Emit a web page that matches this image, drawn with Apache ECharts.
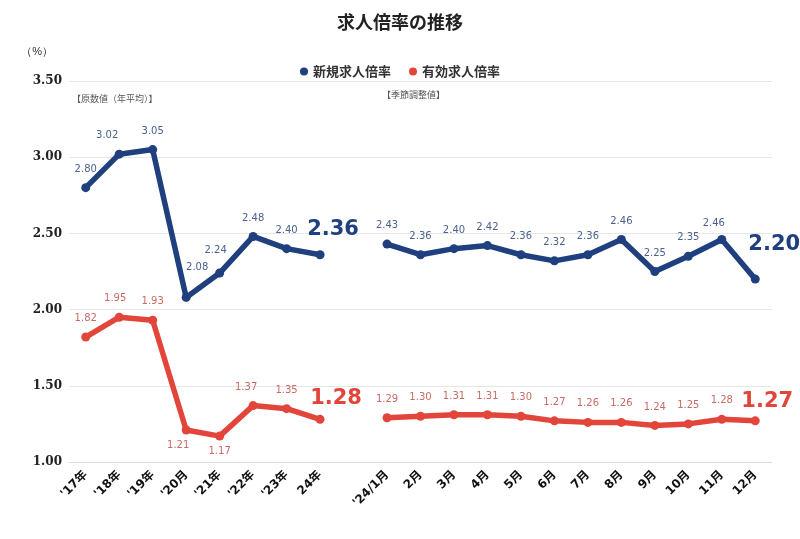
<!DOCTYPE html>
<html>
<head>
<meta charset="utf-8">
<script src="https://cdn.jsdelivr.net/npm/echarts@6/dist/echarts.min.js"></script>
<style>
  html, body { margin: 0; padding: 0; background: #fff; }
  #chart { width: 800px; height: 539px; }
</style>
</head>
<body>
<div id="chart"></div>
<script>
const categories = ["'17年", "'18年", "'19年", "'20月", "'21年", "'22年", "'23年", "24年", "",
  "'24/1月", "2月", "3月", "4月", "5月", "6月", "7月", "8月", "9月", "10月", "11月", "12月"]
const newRatio = [2.80, 3.02, 3.05, 2.08, 2.24, 2.48, 2.40, 2.36, null,
  2.43, 2.36, 2.40, 2.42, 2.36, 2.32, 2.36, 2.46, 2.25, 2.35, 2.46, 2.20]
const activeRatio = [1.82, 1.95, 1.93, 1.21, 1.17, 1.37, 1.35, 1.28, null,
  1.29, 1.30, 1.31, 1.31, 1.30, 1.27, 1.26, 1.26, 1.24, 1.25, 1.28, 1.27]
const yTicks = [1.00, 1.50, 2.00, 2.50, 3.00, 3.50]

// ラベル位置の調整（インデックス → [x, y] オフセット）
const blueLabelShift = { 1: [-12, 0], 3: [11, -12], 4: [-4, -4], 19: [-8, 2], 20: [0, 4] }
const redLabelShift = { 1: [-4, 0], 3: [-8, 0], 5: [-7, 0] }
const bigLabelShift = {
  blue: { 7: [13, -6], 20: [19, -16] },
  red: { 7: [16, -2], 20: [12, 0] }
}
const redBelowIdx = [3, 4]

const BLUE = '#1f3f7e'
const RED = '#e2453a'
const FONT = 'DejaVu Sans, Noto Sans CJK JP, sans-serif'

const buildData = (values, color, shifts, big, below) => values.map((v, i) => {
  if (v === null) return null
  if (big[i]) {
    return {
      value: v,
      label: {
        fontSize: 21, fontWeight: 'bold', color: color,
        position: 'top', offset: big[i], distance: 4
      }
    }
  }
  const label = {}
  if (below.includes(i)) {
    label.position = 'bottom'
    label.distance = 6
  }
  if (shifts[i]) label.offset = shifts[i]
  return Object.keys(label).length ? { value: v, label } : v
})

const chart = echarts.init(document.getElementById('chart'))
chart.setOption({
  animation: false,
  title: {
    text: '求人倍率の推移',
    left: 'center',
    top: 8,
    textStyle: { fontSize: 18, fontWeight: 'bold', color: '#222', fontFamily: 'Noto Sans CJK JP' }
  },
  legend: {
    top: 60,
    left: 'center',
    icon: 'circle',
    itemWidth: 8,
    itemHeight: 8,
    itemGap: 18,
    textStyle: { fontSize: 13, fontWeight: 'bold', color: '#333', fontFamily: 'Noto Sans CJK JP' },
    data: ['新規求人倍率', '有効求人倍率']
  },
  graphic: [
    { type: 'text', left: 72, top: 94, style: { text: '【原数値（年平均）】', fill: '#555', font: '9px Noto Sans CJK JP' } },
    { type: 'text', left: 382, top: 90, style: { text: '【季節調整値】', fill: '#555', font: '9px Noto Sans CJK JP' } }
  ],
  grid: { left: 69, right: 28, top: 81, bottom: 77 },
  xAxis: {
    type: 'category',
    data: categories,
    boundaryGap: true,
    axisLine: { lineStyle: { color: '#ddd' } },
    axisTick: { show: false },
    axisLabel: {
      rotate: 45, interval: 0, margin: 11,
      fontSize: 12, fontWeight: 'bold', color: '#111', fontFamily: FONT
    }
  },
  yAxis: {
    type: 'value',
    min: yTicks[0],
    max: yTicks[yTicks.length - 1],
    interval: 0.5,
    name: '（%）',
    nameLocation: 'end',
    nameGap: 24,
    nameTextStyle: { color: '#333', fontSize: 11, align: 'right', padding: [0, 16, 0, 0] },
    axisLine: { show: false },
    axisTick: { show: false },
    splitLine: { lineStyle: { color: '#e6e6e6' } },
    axisLabel: {
      formatter: v => v.toFixed(2),
      fontSize: 12, fontWeight: 'bold', color: '#222', fontFamily: 'DejaVu Serif', margin: 7
    }
  },
  series: [
    {
      name: '新規求人倍率',
      type: 'line',
      data: buildData(newRatio, BLUE, blueLabelShift, bigLabelShift.blue, []),
      connectNulls: false,
      symbol: 'circle',
      symbolSize: 9,
      color: BLUE,
      lineStyle: { width: 5.5, color: BLUE },
      itemStyle: { color: BLUE },
      label: {
        show: true, position: 'top', distance: 9,
        fontSize: 10, color: '#4b628e', fontFamily: FONT,
        formatter: p => p.value.toFixed(2)
      }
    },
    {
      name: '有効求人倍率',
      type: 'line',
      data: buildData(activeRatio, RED, redLabelShift, bigLabelShift.red, redBelowIdx),
      connectNulls: false,
      symbol: 'circle',
      symbolSize: 9,
      color: RED,
      lineStyle: { width: 5.5, color: RED },
      itemStyle: { color: RED },
      label: {
        show: true, position: 'top', distance: 9,
        fontSize: 10, color: '#c86b64', fontFamily: FONT,
        formatter: p => p.value.toFixed(2)
      }
    }
  ]
})
</script>
</body>
</html>
